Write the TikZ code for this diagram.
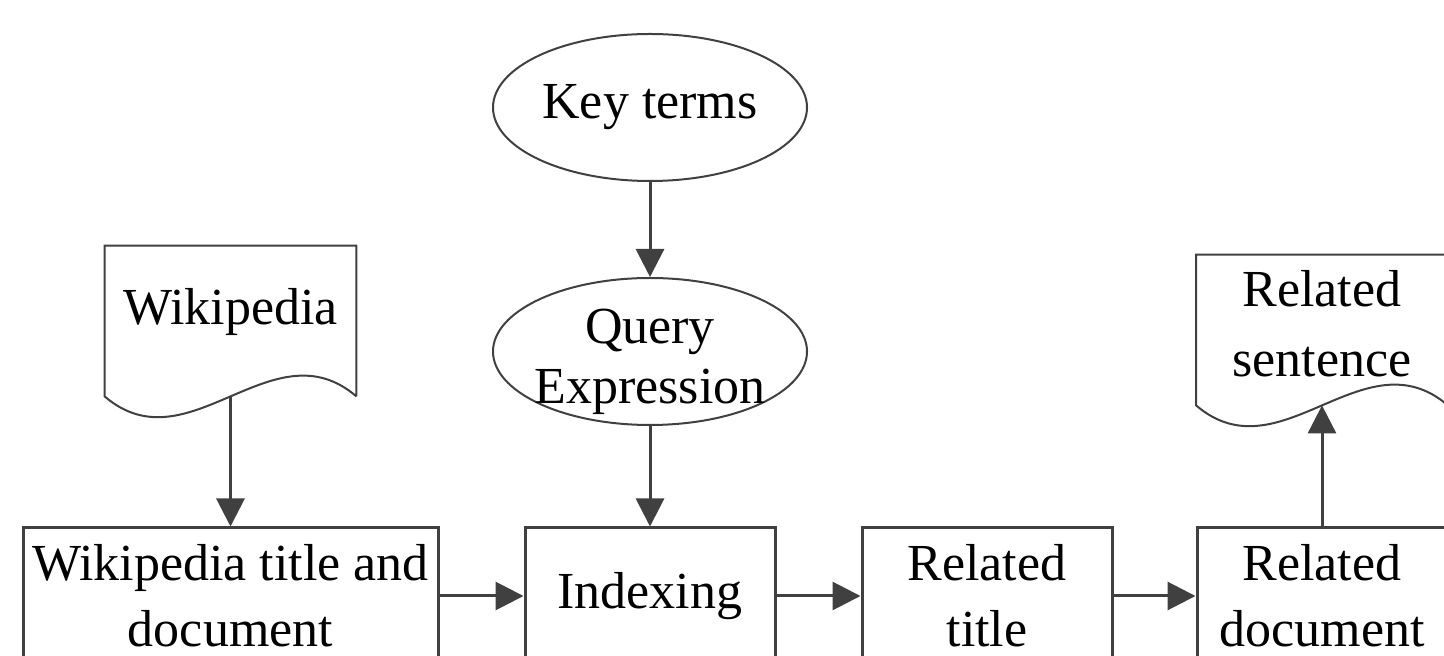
\documentclass[tikz,border=0pt]{standalone}
\usepackage{fontspec}
\setmainfont{Liberation Serif}
\usetikzlibrary{shapes.geometric,arrows.meta}
\definecolor{linegray}{HTML}{404040}
\begin{document}
\begin{tikzpicture}[node distance=120pt, font=\fontsize{26}{33}\selectfont]
    \tikzstyle{arrow} = [line width=1.5pt, draw=linegray, -{Triangle[length=14pt,width=14pt]}]
    \tikzstyle{box} = [rectangle, minimum width=125pt, minimum height=68pt, inner sep=0pt, align=center, draw=linegray, line width=1.5pt]
    \tikzstyle{oval} = [ellipse, minimum width=157pt, minimum height=73.5pt, inner sep=0pt, draw=linegray, line width=1pt]
    \tikzstyle{doc} = [rectangle, minimum width=125.5pt, minimum height=75pt, inner sep=0pt]
    \tikzstyle{docline} = [draw=linegray, line width=1pt]
    \clip (0,0) rectangle (722pt,-328pt);
    \node[box, minimum width=207.5pt](wt) at (115.25pt,-298pt){Wikipedia title and\\document};
    \node[box, right of = wt, xshift = 89.75pt](idx){Indexing};
    \node[box, right of = idx, xshift = 48.5pt](rt){Related\\title};
    \node[box, right of = rt, xshift = 47.5pt](rd){Related\\document};
    \node[doc, above of = wt, yshift = 17.5pt, label={[yshift=4.5pt]center:Wikipedia}](wiki){};
    \node[doc, above of = rd, yshift = 13pt, label={[yshift=3pt, align=center, font=\fontsize{26}{35}\selectfont]center:Related\\sentence}](sent){};
    \node[oval, above of = idx, yshift = 2.25pt, label={[yshift=-5pt, align=center, font=\fontsize{26}{30}\selectfont]center:Query\\Expression}](qe){};
    \node[oval, above of = qe, yshift = 2pt](kt){Key terms};

    % document outlines with wavy bottom
    \draw[docline] (wiki.south east) -- (wiki.north east) -- (wiki.north west) -- (wiki.south west)
        .. controls +(42pt,-36pt) and +(-42pt,36pt) .. (wiki.south east);
    \draw[docline] (sent.south east) -- (sent.north east) -- (sent.north west) -- (sent.south west)
        .. controls +(42pt,-36pt) and +(-42pt,36pt) .. (sent.south east);

    \draw[arrow] (kt)--(qe);
    \draw[arrow] (qe)--(idx);
    \draw[arrow] (wiki.south)--(wt);
    \draw[arrow] (wt)--(idx);
    \draw[arrow] (idx)--(rt);
    \draw[arrow] (rt)--(rd);
    \draw[arrow] (rd)--(sent.south);
\end{tikzpicture}
\end{document}
